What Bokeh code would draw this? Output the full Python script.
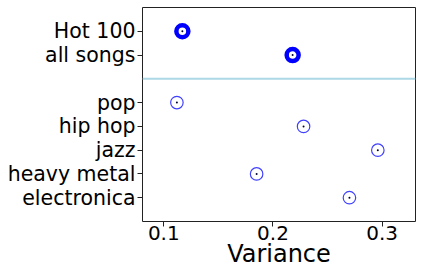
from bokeh.plotting import figure
from bokeh.models import Range1d, FixedTicker, Span, ColumnDataSource
from bokeh.embed import file_html
from bokeh.resources import INLINE

# Data
summary_labels = ["Hot 100", "all songs"]
summary_values = [0.117, 0.218]
genre_labels = ["pop", "hip hop", "jazz", "heavy metal", "electronica"]
genre_values = [0.112, 0.228, 0.296, 0.185, 0.270]
x_ticks = [0.1, 0.2, 0.3]

# Row positions: summary rows, a gap row for the separator, then genre rows
summary_y = list(range(len(summary_labels)))
sep_y = len(summary_labels)
genre_y = [sep_y + 1 + i for i in range(len(genre_labels))]
n_rows = sep_y + 1 + len(genre_labels)

FONT = "DejaVu Sans"

p = figure(width=416, height=271, output_backend="svg", toolbar_location=None,
           x_range=Range1d(0.0805, 0.3305), y_range=Range1d(n_rows, -1),
           min_border_left=142, min_border_right=1, min_border_top=7,
           min_border_bottom=50)
p.background_fill_color = "white"
p.border_fill_color = "white"
p.outline_line_color = "#222222"
p.outline_line_width = 1
p.xgrid.visible = False
p.ygrid.visible = False

src_s = ColumnDataSource(dict(x=summary_values, y=summary_y))
src_g = ColumnDataSource(dict(x=genre_values, y=genre_y))

p.scatter("x", "y", source=src_s, marker="circle", size=12, fill_color=None,
          line_color="blue", line_width=4.5)
p.scatter("x", "y", source=src_s, marker="circle", size=2, fill_color="#000033",
          line_color=None)
p.scatter("x", "y", source=src_g, marker="circle", size=12.5, fill_color=None,
          line_color="blue", line_alpha=0.75, line_width=1.2)
p.scatter("x", "y", source=src_g, marker="circle", size=2, fill_color="#000033",
          line_color=None)

p.add_layout(Span(location=sep_y, dimension="width", line_color="#add8e6",
                  line_width=2))

# y axis
p.yaxis.ticker = FixedTicker(ticks=summary_y + genre_y)
overrides = {}
for yy, lab in zip(summary_y, summary_labels):
    overrides[yy] = lab
for yy, lab in zip(genre_y, genre_labels):
    overrides[yy] = lab
p.yaxis.major_label_overrides = overrides
p.yaxis.minor_tick_line_color = None
p.yaxis.axis_line_color = None
p.yaxis.major_tick_out = 5
p.yaxis.major_tick_in = 0
p.yaxis.major_tick_line_color = "#222222"
p.yaxis.major_label_text_font = FONT
p.yaxis.major_label_text_font_size = "20.5px"
p.yaxis.major_label_text_color = "black"
p.yaxis.major_label_standoff = 2

# x axis
p.xaxis.ticker = FixedTicker(ticks=x_ticks)
p.xaxis.minor_tick_line_color = None
p.xaxis.axis_line_color = None
p.xaxis.major_tick_out = 5
p.xaxis.major_tick_in = 0
p.xaxis.major_tick_line_color = "#222222"
p.xaxis.major_label_text_font = FONT
p.xaxis.major_label_text_font_size = "20px"
p.xaxis.major_label_text_color = "black"
p.xaxis.major_label_standoff = -1
p.xaxis.axis_label = "Variance"
p.xaxis.axis_label_text_font = FONT
p.xaxis.axis_label_text_font_size = "24px"
p.xaxis.axis_label_text_font_style = "normal"
p.xaxis.axis_label_text_color = "black"
p.xaxis.axis_label_standoff = -3

open("out.html", "w").write(file_html(p, INLINE))
